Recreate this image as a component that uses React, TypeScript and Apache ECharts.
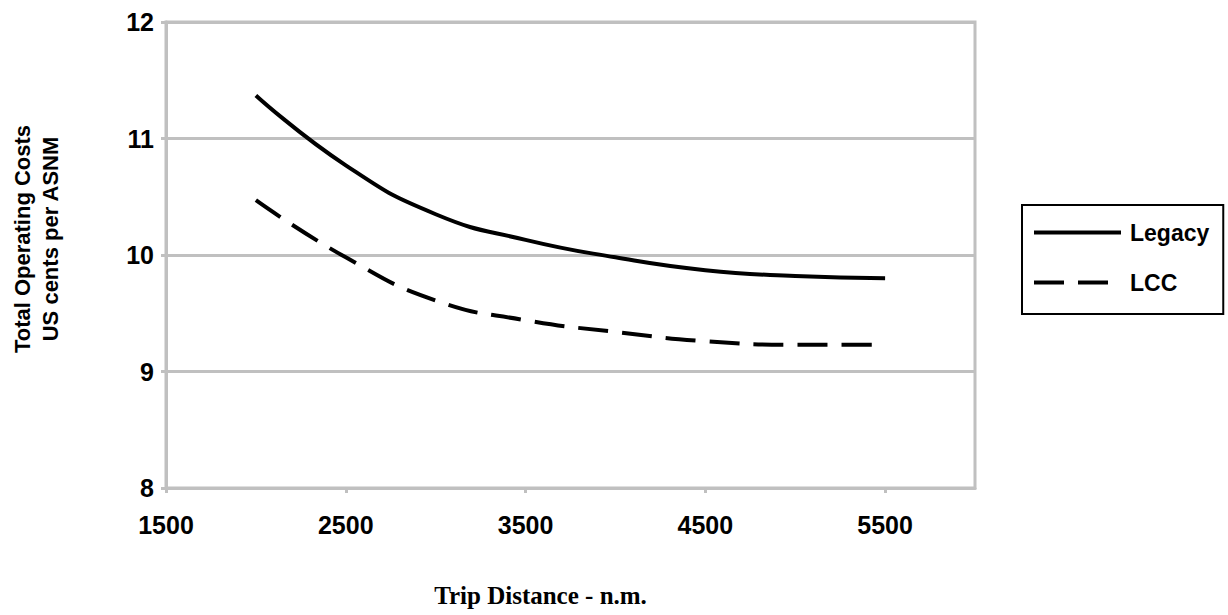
import React, { useEffect, useRef } from "react";
import * as echarts from "echarts";

const distances = [2000, 2500, 3000, 3500, 4000, 4500, 5000, 5500];
const legacy = [11.37, 10.77, 10.35, 10.13, 9.98, 9.87, 9.82, 9.8];
const lcc = [10.47, 9.98, 9.61, 9.44, 9.34, 9.26, 9.23, 9.23];
const seriesNames = ["Legacy", "LCC"];
const xAxisTitle = "Trip Distance - n.m.";
const yAxisTitle = "Total Operating Costs\nUS cents per ASNM";

const SERIF = "'Liberation Serif', 'DejaVu Serif', serif";
const SANS = "'Liberation Sans', Arial, sans-serif";
const GRAY = "#c0c0c0";

export default function App() {
  const ref = useRef<HTMLDivElement>(null);
  useEffect(() => {
    if (!ref.current) return;
    const chart = echarts.init(ref.current, undefined, { renderer: "svg" });
    chart.setOption({
      animation: false,
      backgroundColor: "#ffffff",
      grid: {
        left: 166,
        top: 22,
        right: 253,
        bottom: 127,
        show: true,
        borderColor: GRAY,
        borderWidth: 3,
        containLabel: false,
        outerBoundsMode: "none",
      },
      legend: {
        orient: "vertical",
        left: 1022,
        top: 205,
        backgroundColor: "#fff",
        borderColor: "#000",
        borderWidth: 2,
        padding: [16, 14, 20, 10],
        itemGap: 27,
        itemWidth: 87,
        itemHeight: 14,
        itemStyle: { opacity: 0 },
        lineStyle: { width: 4 },
        textStyle: { fontFamily: SANS, fontWeight: "bold", fontSize: 23, color: "#000", padding: [0, 0, 0, 4] },
        data: seriesNames,
      },
      xAxis: {
        type: "value",
        min: 1500,
        max: 6000,
        interval: 1000,
        name: xAxisTitle,
        nameLocation: "middle",
        nameGap: 95,
        nameTextStyle: {
          fontFamily: SERIF,
          fontWeight: "bold",
          fontSize: 25,
          color: "#000",
          padding: [0, 60, 0, 0],
        },
        axisLine: { show: true, lineStyle: { color: GRAY, width: 3 } },
        axisTick: { show: true, length: 5, lineStyle: { color: GRAY, width: 3 } },
        axisLabel: {
          showMaxLabel: false,
          margin: 24,
          formatter: (v: number) => String(v),
          fontFamily: SANS,
          fontWeight: "bold",
          fontSize: 25,
          color: "#000",
        },
        splitLine: { show: false },
      },
      yAxis: {
        type: "value",
        min: 8,
        max: 12,
        interval: 1,
        name: yAxisTitle,
        nameLocation: "middle",
        nameGap: 102,
        nameTextStyle: {
          fontFamily: SANS,
          fontWeight: "bold",
          fontSize: 22,
          lineHeight: 28,
          color: "#000",
          align: "center",
          padding: [0, 0, 0, 32],
        },
        axisLine: { show: true, lineStyle: { color: GRAY, width: 3 } },
        axisTick: { show: true, length: 5, lineStyle: { color: GRAY, width: 3 } },
        axisLabel: {
          margin: 12,
          fontFamily: SANS,
          fontWeight: "bold",
          fontSize: 25,
          color: "#000",
        },
        splitLine: { show: true, lineStyle: { color: GRAY, width: 3 } },
      },
      series: [
        {
          name: seriesNames[0],
          type: "line",
          smooth: true,
          symbol: "none",
          data: distances.map((d, i) => [d, legacy[i]]),
          lineStyle: { color: "#000", width: 4, type: "solid" },
          itemStyle: { color: "#000" },
        },
        {
          name: seriesNames[1],
          type: "line",
          smooth: true,
          symbol: "none",
          data: distances.map((d, i) => [d, lcc[i]]),
          lineStyle: { color: "#000", width: 4, type: [30, 14] },
          itemStyle: { color: "#000" },
        },
      ],
    });
    return () => chart.dispose();
  }, []);
  return <div ref={ref} style={{ width: 1228, height: 615, position: "absolute", left: 0, top: 0 }} />;
}
